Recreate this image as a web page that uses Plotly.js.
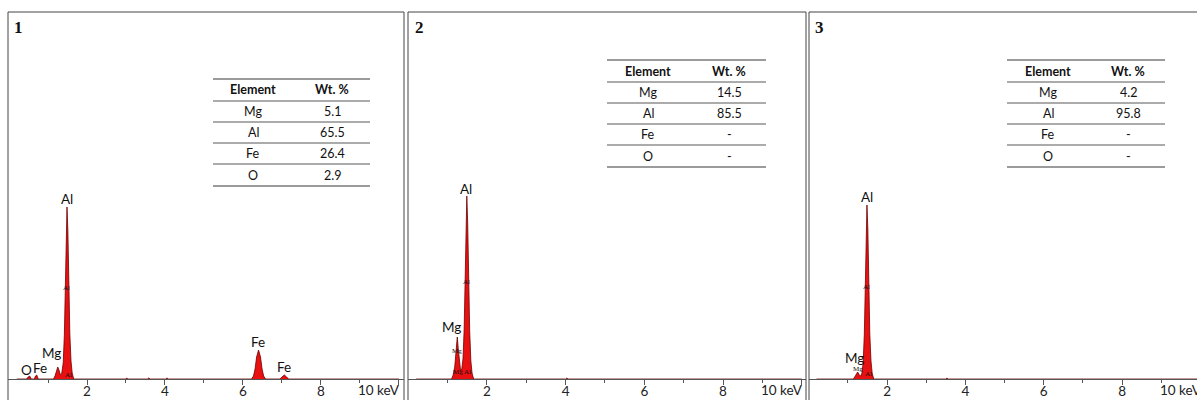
<!DOCTYPE html>
<html><head><meta charset="utf-8">
<script src="https://cdn.plot.ly/plotly-3.0.1.min.js"></script>
<style>html,body{margin:0;padding:0;background:#fff}#chart{width:1197px;height:400px}</style>
</head><body><div id="chart"></div>
<script>
// ---- Spectrum data (energy keV, counts in arbitrary units) ----
const energy1 = [0.2,0.45,0.49,0.53,0.57,0.65,0.68,0.71,0.75,1.14,1.18,1.21,1.25,1.29,1.32,1.35,1.39,1.42,1.45,1.47,1.487,1.51,1.53,1.56,1.59,1.62,1.66,3.0,3.02,3.05,3.55,3.58,3.62,4.02,4.05,4.09,6.22,6.27,6.31,6.35,6.4,6.45,6.49,6.53,6.58,6.95,7.0,7.06,7.12,7.17,10];
const counts1 = [0,0,2,3,0,0,3,4,0,0,3,8,12,8,4,5,16,45,95,148,172,148,95,45,18,6,0,0,1,0,0,1,0,0,1,0,0,3,10,22,29,22,10,3,0,0,2,4,2,0,0];
const energy2 = [0.2,1.1,1.14,1.18,1.21,1.245,1.27,1.3,1.33,1.36,1.39,1.42,1.45,1.47,1.487,1.51,1.53,1.56,1.59,1.62,1.66,4.0,4.03,4.06,10];
const counts2 = [0,0,4,12,26,42,30,14,8,10,20,50,100,155,183,155,100,48,18,6,0,0,1,0,0];
const energy3 = [0.2,1.14,1.19,1.25,1.29,1.33,1.36,1.39,1.42,1.45,1.47,1.487,1.51,1.53,1.56,1.59,1.62,1.66,3.5,3.53,3.56,10];
const counts3 = [0,0,3,7,4,3,6,16,45,95,150,174,150,95,45,18,6,0,0,1,0,0];

// ---- Tables ----
const tableElements = ['Mg','Al','Fe','O'];
const wt1 = ['5.1','65.5','26.4','2.9'];
const wt2 = ['14.5','85.5','-','-'];
const wt3 = ['4.2','95.8','-','-'];
const panelNames = ['1','2','3'];

// ---- Peak labels [text, energy, counts] ----
const peakLabels1 = [['Al',1.49,180],['Mg',1.10,26],['O',0.46,9],['Fe',0.80,11],['Fe',6.38,37],['Fe',7.05,12]];
const peakLabels2 = [['Al',1.47,190],['Mg',1.11,52]];
const peakLabels3 = [['Al',1.49,182],['Mg',1.18,21]];
const smallLabels1 = [['Al',1.48,91],['Al',1.53,4]];
const smallLabels2 = [['Al',1.47,97],['Mg',1.25,28],['Mg Al',1.37,7]];
const smallLabels3 = [['Al',1.48,92],['Mg',1.25,10],['Al',1.52,5]];

const W = 1197, H = 400;
const px = x => x / W, py = y => 1 - y / H;

const ydom = [py(379), py(12)];
const yr = [0, 367];
const fillC = '#e81010', lineC = '#6e0000';

function specTrace(x, y, xa, ya) {
  return {x: x, y: y, xaxis: xa, yaxis: ya, type: 'scatter', mode: 'lines',
    line: {color: lineC, width: 0.8}, fill: 'tozeroy', fillcolor: fillC,
    hoverinfo: 'skip', showlegend: false};
}
const data = [
  specTrace(energy1, counts1, 'x', 'y'),
  specTrace(energy2, counts2, 'x2', 'y2'),
  specTrace(energy3, counts3, 'x3', 'y3')
];

const sans = 'Lato, "Open Sans", sans-serif';
const serif = '"Liberation Serif", serif';

function xax(domain, range) {
  return {domain: domain, range: range, showgrid: false, zeroline: false,
    showline: true, linecolor: '#555', linewidth: 1.2,
    ticks: 'outside', ticklen: 5, tickcolor: '#555', tickwidth: 1,
    tickvals: [2,4,6,8,10], ticktext: ['2','4','6','8',''],
    ticklabelstandoff: -5,
    minor: {tickvals: [1,3,5,7,9], ticks: 'outside', ticklen: 3, tickcolor: '#555'},
    tickfont: {family: sans, size: 13.5, color: '#222'},
    fixedrange: true};
}
function yax(anchor) {
  return {domain: ydom, range: yr, visible: false, anchor: anchor, fixedrange: true};
}

const layout = {
  width: W, height: H, margin: {l: 0, r: 0, t: 0, b: 0},
  paper_bgcolor: '#fff', plot_bgcolor: 'rgba(0,0,0,0)', showlegend: false,
  xaxis: Object.assign(xax([px(8), px(404)], [-0.026, 10.13]), {anchor: 'y'}),
  xaxis2: Object.assign(xax([px(408), px(806)], [-0.008, 10.11]), {anchor: 'y2'}),
  xaxis3: Object.assign(xax([px(809), 1], [0.008, 9.91]), {anchor: 'y3'}),
  yaxis: yax('x'), yaxis2: yax('x2'), yaxis3: yax('x3'),
  shapes: [], annotations: []
};

// panel borders
[[8,404],[408,806],[809,1199]].forEach(b => {
  layout.shapes.push({type: 'rect', xref: 'paper', yref: 'paper',
    x0: px(b[0]), x1: px(b[1]), y0: py(402), y1: py(12),
    line: {color: '#444', width: 1}, fillcolor: 'rgba(0,0,0,0)', layer: 'below'});
});

// panel numbers
[18, 419, 819].forEach((x, i) => {
  layout.annotations.push({xref: 'paper', yref: 'paper', x: px(x), y: py(27),
    text: '<b>' + panelNames[i] + '</b>', showarrow: false, xanchor: 'center', yanchor: 'middle',
    font: {family: '"Liberation Serif", "DejaVu Serif", serif', size: 17, color: '#111'}});
});

// "10 keV" labels
[[402],[805],[1204]].forEach(r => {
  layout.annotations.push({xref: 'paper', yref: 'paper', x: px(r[0]), y: py(390),
    text: '10 keV', showarrow: false, xanchor: 'right', yanchor: 'middle',
    font: {family: sans, size: 13.5, color: '#222'}});
});

// peak labels
function addLabels(list, xr, yr2, size, fam) {
  list.forEach(l => {
    layout.annotations.push({xref: xr, yref: yr2, x: l[1], y: l[2], text: l[0],
      showarrow: false, xanchor: 'center', yanchor: 'middle',
      font: {family: fam, size: size, color: '#111'}});
  });
}
addLabels(peakLabels1, 'x', 'y', 13.5, sans);
addLabels(peakLabels2, 'x2', 'y2', 13.5, sans);
addLabels(peakLabels3, 'x3', 'y3', 13.5, sans);
addLabels(smallLabels1, 'x', 'y', 7, serif);
addLabels(smallLabels2, 'x2', 'y2', 7, serif);
addLabels(smallLabels3, 'x3', 'y3', 7, serif);

// tables
function addTable(x0, x1, lines, c1, c2, vals) {
  lines.forEach((y, i) => {
    layout.shapes.push({type: 'line', xref: 'paper', yref: 'paper',
      x0: px(x0), x1: px(x1), y0: py(y), y1: py(y),
      line: {color: (i === 0 || i === lines.length - 1) ? '#7a7a7a' : '#8f8f8f', width: 1.6}});
  });
  const font = {family: sans, size: 12.5, color: '#111'};
  const rows = [['<b>Element</b>', '<b>Wt. %</b>']].concat(tableElements.map((e, i) => [e, vals[i]]));
  rows.forEach((r, i) => {
    const yc = (lines[i] + lines[i + 1]) / 2;
    layout.annotations.push({xref: 'paper', yref: 'paper', x: px(c1), y: py(yc), text: r[0],
      showarrow: false, xanchor: 'center', yanchor: 'middle', font: font});
    layout.annotations.push({xref: 'paper', yref: 'paper', x: px(c2), y: py(yc), text: r[1],
      showarrow: false, xanchor: 'center', yanchor: 'middle', font: font});
  });
}
addTable(213, 370, [79,101,122,143,164,186], 253, 332, wt1);
addTable(607, 766, [60,82,103,124,145,167], 648, 729, wt2);
addTable(1007, 1165, [60,82,103,124,145,167], 1048, 1128, wt3);

Plotly.newPlot('chart', data, layout, {staticPlot: true, displayModeBar: false});
</script></body></html>
